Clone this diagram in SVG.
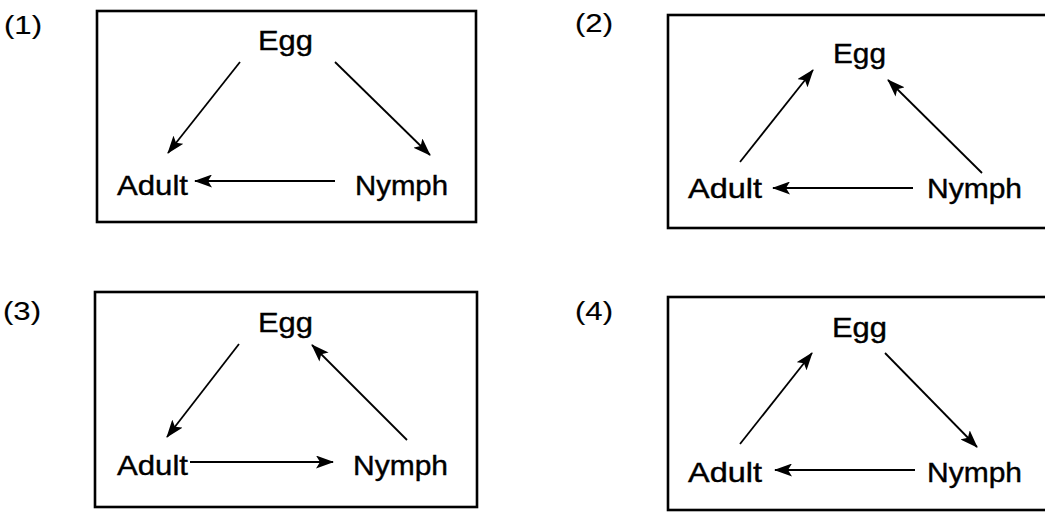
<svg xmlns="http://www.w3.org/2000/svg" width="1045" height="513" viewBox="0 0 1045 513">
<style>
.box{fill:none;stroke:#000;stroke-width:2.6}
.lbl{font-family:"Liberation Sans",Arial,sans-serif;font-size:28px;fill:#000;stroke:#000;stroke-width:0.4}
.num{font-family:"Liberation Sans",Arial,sans-serif;font-size:26px;fill:#000;stroke:#000;stroke-width:0.15}
.arr{stroke:#000;stroke-width:1.8;fill:none;marker-end:url(#ah)}
</style>
<defs>
<marker id="ah" markerUnits="userSpaceOnUse" markerWidth="18" markerHeight="13" viewBox="0 0 18 13" refX="17" refY="6.5" orient="auto">
<path d="M0,0 L18,6.5 L0,13 L4,6.5 Z" fill="#000"/>
</marker>
</defs>
<rect width="1045" height="513" fill="#fff"/>

<g id="panel1">
<text class="num" x="4" y="34" textLength="38" lengthAdjust="spacingAndGlyphs">(1)</text>
<rect class="box" x="97" y="11" width="379" height="211"/>
<g id="p1-egg"><text class="lbl" x="258" y="50" textLength="55" lengthAdjust="spacingAndGlyphs">Egg</text></g>
<g id="p1-adult"><text class="lbl" x="117" y="195" textLength="71" lengthAdjust="spacingAndGlyphs">Adult</text></g>
<g id="p1-nymph"><text class="lbl" x="355" y="195" textLength="93" lengthAdjust="spacingAndGlyphs">Nymph</text></g>
</g>

<g id="panel2">
<text class="num" x="575" y="32" textLength="38" lengthAdjust="spacingAndGlyphs">(2)</text>
<rect class="box" x="668" y="15" width="400" height="213"/>
<g id="p2-egg"><text class="lbl" x="833" y="63" textLength="53" lengthAdjust="spacingAndGlyphs">Egg</text></g>
<g id="p2-adult"><text class="lbl" x="688" y="198" textLength="74" lengthAdjust="spacingAndGlyphs">Adult</text></g>
<g id="p2-nymph"><text class="lbl" x="927" y="198" textLength="95" lengthAdjust="spacingAndGlyphs">Nymph</text></g>
</g>

<g id="panel3">
<text class="num" x="3" y="320" textLength="38" lengthAdjust="spacingAndGlyphs">(3)</text>
<rect class="box" x="95" y="292" width="382" height="215"/>
<g id="p3-egg"><text class="lbl" x="258" y="332" textLength="55" lengthAdjust="spacingAndGlyphs">Egg</text></g>
<g id="p3-adult"><text class="lbl" x="117" y="475" textLength="71" lengthAdjust="spacingAndGlyphs">Adult</text></g>
<g id="p3-nymph"><text class="lbl" x="353" y="475" textLength="95" lengthAdjust="spacingAndGlyphs">Nymph</text></g>
</g>

<g id="panel4">
<text class="num" x="575" y="320" textLength="38" lengthAdjust="spacingAndGlyphs">(4)</text>
<rect class="box" x="668" y="297" width="400" height="213"/>
<g id="p4-egg"><text class="lbl" x="832" y="337" textLength="55" lengthAdjust="spacingAndGlyphs">Egg</text></g>
<g id="p4-adult"><text class="lbl" x="688" y="482" textLength="74" lengthAdjust="spacingAndGlyphs">Adult</text></g>
<g id="p4-nymph"><text class="lbl" x="927" y="482" textLength="95" lengthAdjust="spacingAndGlyphs">Nymph</text></g>
</g>

<g id="connectors">
<line class="arr" x1="240" y1="62" x2="168" y2="153"/>
<line class="arr" x1="335" y1="62" x2="430" y2="155"/>
<line class="arr" x1="335" y1="181" x2="195" y2="181"/>

<line class="arr" x1="740" y1="162" x2="813" y2="70"/>
<line class="arr" x1="982" y1="173" x2="888" y2="80"/>
<line class="arr" x1="913" y1="188" x2="773" y2="188"/>

<line class="arr" x1="239" y1="344" x2="167" y2="437"/>
<line class="arr" x1="407" y1="440" x2="312" y2="345"/>
<line class="arr" x1="190" y1="462" x2="333" y2="462"/>

<line class="arr" x1="740" y1="444" x2="812" y2="353"/>
<line class="arr" x1="885" y1="353" x2="977" y2="447"/>
<line class="arr" x1="915" y1="470" x2="775" y2="470"/>
</g>
</svg>
